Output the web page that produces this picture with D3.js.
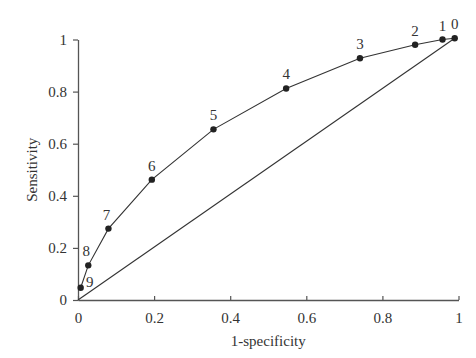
<!DOCTYPE html>
<html>
<head>
<meta charset="utf-8">
<script src="https://cdn.jsdelivr.net/npm/d3@7"></script>
<style>
  body { margin: 0; background: #fff; }
  svg text { font-family: "Liberation Serif", "DejaVu Serif", serif; fill: #333; }
</style>
</head>
<body>
<svg id="chart"></svg>
<script>
(() => {

  // cut-off labels and ROC coordinates
  const cutoffs = ['0', '1', '2', '3', '4', '5', '6', '7', '8', '9'];
  const fpr = [0.99, 0.958, 0.886, 0.741, 0.547, 0.356, 0.194, 0.080, 0.027, 0.007];
  const tpr = [1.005, 1.0, 0.98, 0.928, 0.812, 0.655, 0.462, 0.274, 0.133, 0.047];
  const ticks = [0, 0.2, 0.4, 0.6, 0.8, 1];

  const points = cutoffs.map((name, i) => ({ name: name, x: fpr[i], y: tpr[i] }));

  const svgWidth = 476;
  const svgHeight = 358;
  const margin = { top: 39.5, left: 78, right: 17.5, bottom: 58 };
  const width = svgWidth - (margin.left + margin.right);
  const height = svgHeight - (margin.top + margin.bottom);

  const svg = d3.select('#chart')
    .attr('width', svgWidth)
    .attr('height', svgHeight);

  const g = svg.append('g')
    .attr('transform', `translate(${margin.left}, ${margin.top})`);

  const xScale = d3.scaleLinear().domain([0, 1]).range([0, width]);
  const yScale = d3.scaleLinear().domain([0, 1]).range([height, 0]);

  const xAxis = g.append('g')
    .attr('transform', `translate(0, ${height})`)
    .call(d3.axisBottom(xScale).tickValues(ticks).tickFormat(d3.format('')).tickSizeInner(-4).tickSizeOuter(0).tickPadding(12));

  const yAxis = g.append('g')
    .call(d3.axisLeft(yScale).tickValues(ticks).tickFormat(d3.format('')).tickSizeInner(5).tickSizeOuter(0).tickPadding(6));

  [xAxis, yAxis].forEach(axis => {
    axis.select('.domain').attr('stroke', '#555').attr('stroke-width', 1.3);
    axis.selectAll('.tick line').attr('stroke', '#555').attr('stroke-width', 1.2);
    axis.selectAll('.tick text')
      .attr('font-family', '"Liberation Serif", serif')
      .attr('font-size', 15)
      .attr('fill', '#333');
  });

  // chance line from origin to the first cut-off
  g.append('line')
    .attr('x1', xScale(0))
    .attr('y1', yScale(0))
    .attr('x2', xScale(points[0].x))
    .attr('y2', yScale(points[0].y))
    .attr('stroke', '#333')
    .attr('stroke-width', 1.1);

  const line = d3.line()
    .x(d => xScale(d.x))
    .y(d => yScale(d.y));

  g.append('path')
    .attr('fill', 'none')
    .attr('stroke', '#333')
    .attr('stroke-width', 1.1)
    .attr('d', line(points));

  g.selectAll('.dot')
    .data(points)
    .enter()
    .append('circle')
    .attr('cx', d => xScale(d.x))
    .attr('cy', d => yScale(d.y))
    .attr('r', 3.2)
    .attr('fill', '#222');

  g.selectAll('.lbl')
    .data(points)
    .enter()
    .append('text')
    .attr('x', d => xScale(d.x) + (d.name === '9' ? 9 : d.name === '7' || d.name === '8' ? -2 : 0))
    .attr('y', d => yScale(d.y) + (d.name === '9' ? -1 : -9))
    .attr('text-anchor', 'middle')
    .attr('font-size', 15)
    .text(d => d.name);

  g.append('text')
    .attr('x', xScale(0.5))
    .attr('y', height + 46)
    .attr('text-anchor', 'middle')
    .attr('font-size', 15)
    .text('1-specificity');

  g.append('text')
    .attr('transform', `translate(${-41}, ${yScale(0.5)}) rotate(-90)`)
    .attr('text-anchor', 'middle')
    .attr('font-size', 15)
    .text('Sensitivity');

})();
</script>
</body>
</html>
